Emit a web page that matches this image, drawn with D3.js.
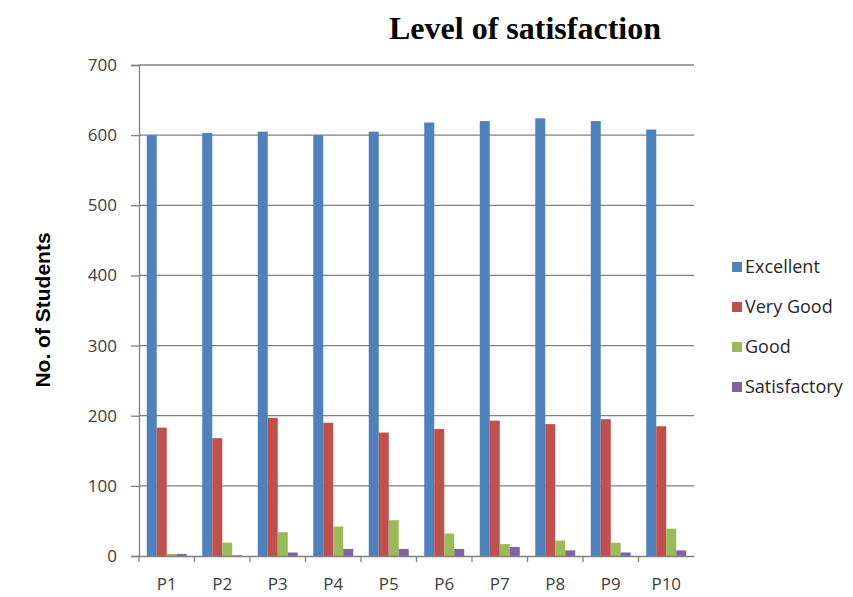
<!DOCTYPE html>
<html>
<head>
<meta charset="utf-8">
<script src="https://cdn.jsdelivr.net/npm/d3@7"></script>
<style>
  html, body { margin: 0; padding: 0; background: #ffffff; }
  svg { display: block; }
</style>
</head>
<body>
<svg id="chart" width="853" height="597"></svg>
<script>
const categories = ["P1","P2","P3","P4","P5","P6","P7","P8","P9","P10"];
const seriesNames = ["Excellent","Very Good","Good","Satisfactory"];
const excellent    = [600, 603, 605, 600, 605, 618, 620, 624, 620, 608];
const veryGood     = [183, 168, 197, 190, 176, 181, 193, 188, 195, 185];
const good         = [3, 19, 34, 42, 51, 32, 17, 22, 19, 39];
const satisfactory = [3, 1, 5, 10, 10, 10, 13, 8, 5, 8];
const yTicks = [0, 100, 200, 300, 400, 500, 600, 700];
const colors = ["#4F81BD", "#C0504D", "#9BBB59", "#8064A2"];
const chartTitle = "Level of satisfaction";
const yTitle = "No. of Students";

const seriesValues = [excellent, veryGood, good, satisfactory];

const svg = d3.select("#chart");
const plotLeft = 139, plotRight = 694, plotTop = 65, plotBottom = 556;

const x = d3.scaleBand().domain(categories).range([plotLeft, plotRight]).paddingInner(0).paddingOuter(0);
const x1 = d3.scaleBand().domain(seriesNames).range([0, 40]);
const y = d3.scaleLinear().domain([0, 700]).range([plotBottom, plotTop]);

// gridlines
svg.append("g").selectAll("line").data(yTicks.filter(d => d > 0)).join("line")
  .attr("x1", plotLeft).attr("x2", plotRight)
  .attr("y1", d => y(d)).attr("y2", d => y(d))
  .attr("stroke", "#808080").attr("stroke-width", 1.3);

// bars
const groups = svg.append("g").selectAll("g").data(categories).join("g")
  .attr("transform", d => `translate(${x(d) + (x.bandwidth() - 40) / 2},0)`);
groups.selectAll("rect")
  .data((c, i) => seriesNames.map((s, k) => ({s, k, v: seriesValues[k][i]})))
  .join("rect")
  .attr("x", d => x1(d.s))
  .attr("width", x1.bandwidth())
  .attr("y", d => y(d.v))
  .attr("height", d => y(0) - y(d.v))
  .attr("fill", d => colors[d.k]);

// y axis
const yAxis = d3.axisLeft(y).tickValues(yTicks).tickSize(8).tickPadding(14).tickFormat(d3.format("d"));
const gy = svg.append("g").attr("transform", `translate(${plotLeft},0)`).call(yAxis);
gy.select(".domain").attr("stroke", "#808080").attr("stroke-width", 1.3);
gy.selectAll(".tick line").attr("stroke", "#808080").attr("stroke-width", 1.3);
gy.selectAll("text").attr("font-family", "'Open Sans', sans-serif").attr("font-size", 17).attr("fill", "#404040");

// x axis
const gx = svg.append("g").attr("transform", `translate(0,${plotBottom})`)
  .call(d3.axisBottom(x).tickSize(0).tickPadding(22));
gx.select(".domain").attr("stroke", "#808080").attr("stroke-width", 1.3);
gx.selectAll("text").attr("font-family", "'Open Sans', sans-serif").attr("font-size", 17).attr("fill", "#404040");
// x tick marks at band boundaries
svg.append("g").selectAll("line").data(categories).join("line")
  .attr("x1", d => x(d)).attr("x2", d => x(d))
  .attr("y1", plotBottom).attr("y2", plotBottom + 6)
  .attr("stroke", "#808080").attr("stroke-width", 1.3);

// title
svg.append("text").attr("x", 525).attr("y", 39).attr("text-anchor", "middle")
  .attr("font-family", "'Liberation Serif', 'Times New Roman', serif")
  .attr("font-weight", "bold").attr("font-size", 32).attr("fill", "#000")
  .text(chartTitle);

// y title
svg.append("text").attr("transform", "translate(50,310) rotate(-90)")
  .attr("text-anchor", "middle")
  .attr("font-family", "'Liberation Sans', Arial, sans-serif")
  .attr("font-weight", "bold").attr("font-size", 21).attr("fill", "#000")
  .text(yTitle);

// legend
const legend = svg.append("g").selectAll("g").data(seriesNames).join("g")
  .attr("transform", (d, i) => `translate(732,${267 + i * 40})`);
legend.append("rect").attr("x", 0).attr("y", -5).attr("width", 10).attr("height", 10)
  .attr("fill", (d, i) => colors[i]);
legend.append("text").attr("x", 13).attr("y", 0).attr("dy", "0.35em")
  .attr("font-family", "'Open Sans', sans-serif").attr("font-size", 18).attr("fill", "#262626")
  .text(d => d);
</script>
</body>
</html>
